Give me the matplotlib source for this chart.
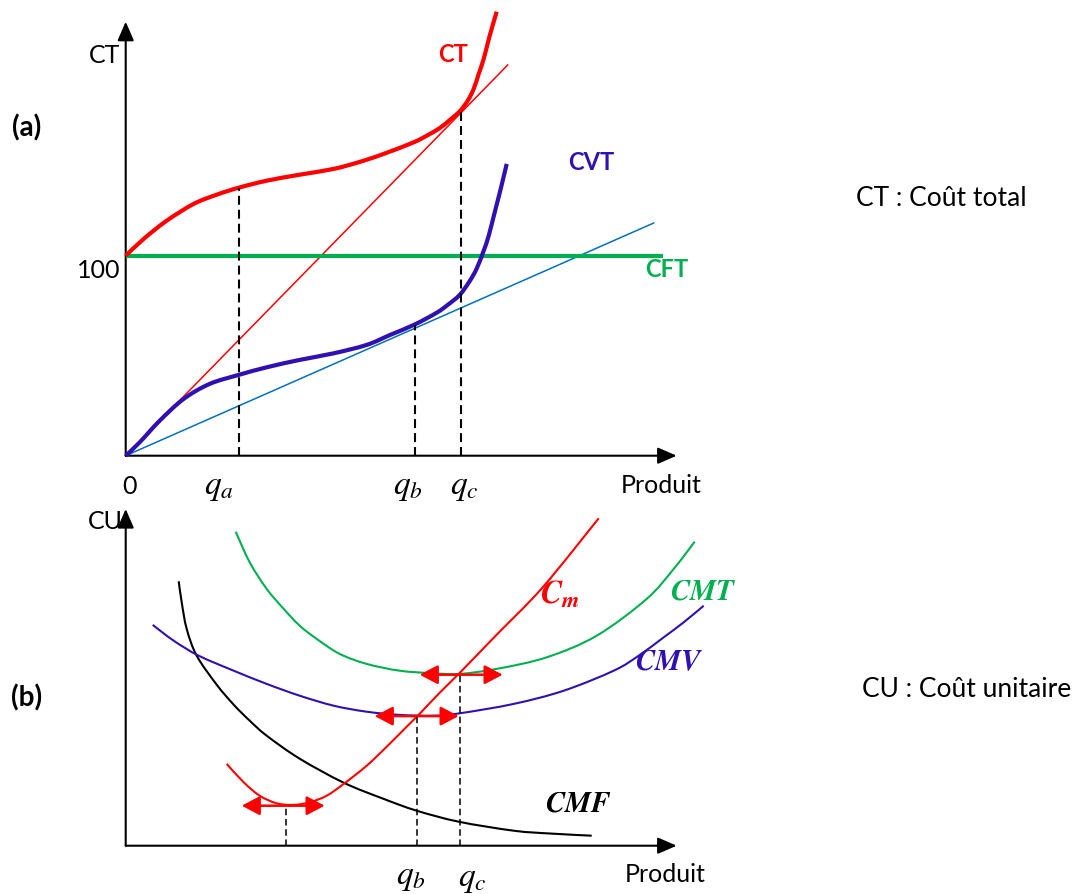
import matplotlib
matplotlib.use("Agg")
import matplotlib.pyplot as plt
from matplotlib.path import Path
from matplotlib.patches import PathPatch

# ---------------------------------------------------------------- data
# (a) total costs against output
q_ct = [0, 1.8, 4.1, 6.8, 9.1, 11.3, 14.1, 17.4, 20.8, 23.4, 25.8, 28.8, 30.1,
        31.4, 32.4, 33.4, 34.2, 34.8, 35.3, 35.8, 36.4, 37.1]
ct = [100, 108.4, 117.5, 125.9, 130.5, 134.0, 137.5, 140.5, 143.4, 146.9, 150.9,
      156.7, 160.0, 163.8, 167.8, 172.2, 177.5, 183.4, 190.9, 198.4, 210.0, 222.0]

q_cvt = [0, 1.4, 3.4, 5.8, 8.4, 11.3, 14.1, 17.4, 20.8, 24.1, 26.4, 28.9, 31.1,
         32.2, 33.4, 34.4, 35.1, 35.8, 36.3, 36.9, 37.5, 38.1]
cvt = [0, 6.7, 17.5, 28.4, 35.9, 40.4, 44.2, 47.9, 51.2, 55.4, 60.3, 65.6, 71.5,
       75.4, 80.4, 87.3, 93.6, 102.5, 110.0, 121.7, 133.4, 145.9]

q_cft = [0, 53.7]
cft = [100, 100]

# rays from the origin tangent to CT and CVT
q_ray_ct = [0, 38.2]
ray_ct = [0, 195.35]
q_ray_cvt = [0, 52.8]
ray_cvt = [0, 116.35]

q_a, q_b, q_c = 11.3, 28.9, 33.5
ct_at_qa, cvt_at_qb, ct_at_qc = 134.0, 65.6, 172.5

# (b) unit costs against output
q_cmf = [5.3, 5.6, 6.1, 7.1, 9.1, 10.8, 12.4, 14.1, 17.4, 21.8, 25.8, 29.1,
         33.3, 38.8, 42.4, 46.6]
cmf = [132.2, 121.7, 108.4, 95.0, 80.5, 70.5, 62.5, 55.0, 43.5, 31.5, 23.4, 17.5,
       12.0, 7.5, 6.1, 5.0]

q_cmv = [2.7, 4.8, 7.3, 10.8, 14.1, 17.4, 20.8, 24.1, 27.4, 30.8, 33.4, 38.8,
         43.8, 48.8, 51.3, 53.8, 55.8, 57.8]
cmv = [110.4, 102.5, 95.0, 87.5, 80.9, 75.0, 70.0, 67.0, 65.4, 65.0, 66.2, 70.9,
       77.5, 87.5, 95.0, 104.2, 111.7, 120.0]

q_cmt = [11.0, 12.4, 14.1, 15.8, 17.4, 19.1, 21.4, 24.1, 27.4, 30.8, 33.4, 37.1,
         42.1, 47.1, 52.1, 54.8, 56.9]
cmt = [157.0, 141.7, 128.4, 118.4, 110.0, 103.4, 95.9, 90.9, 87.5, 86.2, 85.9,
       88.4, 94.2, 105.0, 123.4, 138.4, 152.0]

q_cm = [10.1, 11.8, 13.4, 15.1, 16.8, 18.4, 20.1, 21.8, 24.1, 26.1, 28.1, 29.4,
        31.4, 33.4, 37.0, 41.7, 47.3]
cm = [40.9, 31.7, 25.0, 21.2, 20.4, 21.7, 25.0, 30.9, 40.0, 49.5, 59.5, 66.0,
      76.5, 86.4, 105.0, 129.2, 163.7]

q_min_cm, cm_min = 16.0, 20.4
q_min_cmv, cmv_min = 29.1, 65.0
q_min_cmt, cmt_min = 33.4, 85.9

# horizontal double arrows around each minimum: (q_left, q_right, level)
flat_arrows = [(11.6, 19.9, 20.0), (24.9, 33.3, 64.8), (29.4, 37.7, 85.5)]

# ---------------------------------------------------------------- style
plt.rcParams['font.family'] = ['Lato', 'DejaVu Sans']
plt.rcParams['mathtext.fontset'] = 'stix'

RED = '#FF0000'
GREEN = '#00B050'
NAVY = '#3010B0'
SKY = '#0070C0'

W, H = 1074, 895
fig = plt.figure(figsize=(W / 100, H / 100), dpi=100)


def box(x0, y0, x1, y1):
    """Pixel rectangle (top-left origin) -> figure fraction rect."""
    return [x0 / W, 1 - y1 / H, (x1 - x0) / W, (y1 - y0) / H]


axa = fig.add_axes(box(125.7, 0, 725.7, 456.7))
axa.set_xlim(0, 60)
axa.set_ylim(0, 228.35)
axb = fig.add_axes(box(125.7, 500, 725.7, 846.7))
axb.set_xlim(0, 60)
axb.set_ylim(0, 173.35)
for ax in (axa, axb):
    ax.axis('off')


def smooth_curve(ax, xs, ys, **kw):
    """Draw a smooth (Catmull-Rom / cubic Bezier) stroke through the points."""
    pts = list(zip(xs, ys))
    verts = [pts[0]]
    codes = [Path.MOVETO]
    n = len(pts)
    for i in range(n - 1):
        p0 = pts[i - 1] if i > 0 else pts[i]
        p1 = pts[i]
        p2 = pts[i + 1]
        p3 = pts[i + 2] if i + 2 < n else pts[i + 1]
        c1 = (p1[0] + (p2[0] - p0[0]) / 6, p1[1] + (p2[1] - p0[1]) / 6)
        c2 = (p2[0] - (p3[0] - p1[0]) / 6, p2[1] - (p3[1] - p1[1]) / 6)
        verts += [c1, c2, p2]
        codes += [Path.CURVE4] * 3
    patch = PathPatch(Path(verts, codes), fill=False, clip_on=False,
                      capstyle='butt', joinstyle='round', **kw)
    ax.add_patch(patch)


def draw_axes(ax, xtip, ytip):
    props = dict(arrowstyle='-|>,head_length=1.15,head_width=0.5',
                 mutation_scale=10, lw=1.5, color='black',
                 shrinkA=0, shrinkB=0)
    ax.annotate('', xy=(xtip, 0), xytext=(0, 0), arrowprops=props,
                annotation_clip=False)
    ax.annotate('', xy=(0, ytip), xytext=(0, 0), arrowprops=props,
                annotation_clip=False)


def dashed(ax, q, top, lw):
    ax.plot([q, q], [0, top], color='black', lw=lw,
            dashes=(4.3, 2.4), zorder=6, clip_on=False)


# ---------------------------------------------------------------- panel (a)
draw_axes(axa, 55.1, 217)
axa.plot(q_ray_ct, ray_ct, color=RED, lw=1.1, zorder=2, clip_on=False)
axa.plot(q_ray_cvt, ray_cvt, color=SKY, lw=1.1, zorder=2, clip_on=False)
axa.plot(q_cft, cft, color=GREEN, lw=3.0, zorder=3, clip_on=False,
         solid_capstyle='butt')
smooth_curve(axa, q_ct, ct, edgecolor=RED, lw=3.0, zorder=4)
smooth_curve(axa, q_cvt, cvt, edgecolor=NAVY, lw=3.0, zorder=4)
dashed(axa, q_a, ct_at_qa, 1.5)
dashed(axa, q_b, cvt_at_qb, 1.5)
dashed(axa, q_c, ct_at_qc, 1.5)

axa.text(32.7, 200.9, 'CT', color=RED, fontsize=17, fontweight='bold',
         ha='center', va='center')
axa.text(46.6, 146.9, 'CVT', color=NAVY, fontsize=17, fontweight='bold',
         ha='center', va='center')
axa.text(54.1, 93.4, 'CFT', color=GREEN, fontsize=17, fontweight='bold',
         ha='center', va='center')
axa.text(-0.5, 92.9, '100', fontsize=18, ha='right', va='center')
axa.text(-0.5, 200.4, 'CT', fontsize=18, ha='right', va='center')
axa.text(0.4, -14.7, '0', fontsize=18, ha='center', va='center')
axa.text(9.3, -15.7, '$q_a$', fontsize=24, ha='center', va='center')
axa.text(28.2, -15.7, '$q_b$', fontsize=24, ha='center', va='center')
axa.text(33.9, -15.7, '$q_c$', fontsize=24, ha='center', va='center')
axa.text(53.5, -14.2, 'Produit', fontsize=18, ha='center', va='center')

# ---------------------------------------------------------------- panel (b)
draw_axes(axb, 55.1, 168.35)
smooth_curve(axb, q_cmf, cmf, edgecolor='black', lw=1.5, zorder=3)
smooth_curve(axb, q_cmv, cmv, edgecolor=NAVY, lw=1.5, zorder=3)
smooth_curve(axb, q_cmt, cmt, edgecolor=GREEN, lw=1.5, zorder=3)
smooth_curve(axb, q_cm, cm, edgecolor=RED, lw=1.5, zorder=4)
dashed(axb, q_min_cm, cm_min, 1.1)
dashed(axb, q_min_cmv, cmv_min, 1.1)
dashed(axb, q_min_cmt, cmt_min, 1.1)
for q0, q1, level in flat_arrows:
    axb.annotate('', xy=(q1, level), xytext=(q0, level),
                 arrowprops=dict(arrowstyle='<|-|>,head_length=1.1,head_width=0.58',
                                 mutation_scale=10, lw=1.8, color=RED,
                                 shrinkA=0, shrinkB=0),
                 annotation_clip=False, zorder=7)

axb.text(43.4, 126.3, r'$\boldsymbol{C}_{\boldsymbol{m}}$', color=RED,
         fontsize=23, ha='center', va='center')
axb.text(57.7, 127.4, r'$\boldsymbol{CMT}$', color=GREEN, fontsize=21,
         ha='center', va='center')
axb.text(54.3, 92.4, r'$\boldsymbol{CMV}$', color=NAVY, fontsize=21,
         ha='center', va='center')
axb.text(45.3, 21.4, r'$\boldsymbol{CMF}$', color='black', fontsize=21,
         ha='center', va='center')
axb.text(-0.3, 162.6, 'CU', fontsize=18, ha='right', va='center')
axb.text(28.5, -15.7, '$q_b$', fontsize=24, ha='center', va='center')
axb.text(34.7, -16.6, '$q_c$', fontsize=24, ha='center', va='center')
axb.text(53.9, -14.1, 'Produit', fontsize=18, ha='center', va='center')

# ---------------------------------------------------------------- side notes
fig.text(27 / W, 1 - 128 / H, '(a)', fontsize=20, fontweight='bold',
         ha='center', va='center')
fig.text(27 / W, 1 - 698 / H, '(b)', fontsize=20, fontweight='bold',
         ha='center', va='center')
fig.text(941 / W, 1 - 198 / H, 'CT : Coût total', fontsize=19,
         ha='center', va='center')
fig.text(967 / W, 1 - 690 / H, 'CU : Coût unitaire', fontsize=19,
         ha='center', va='center')

fig.savefig('out.png', dpi=100, facecolor='white')
